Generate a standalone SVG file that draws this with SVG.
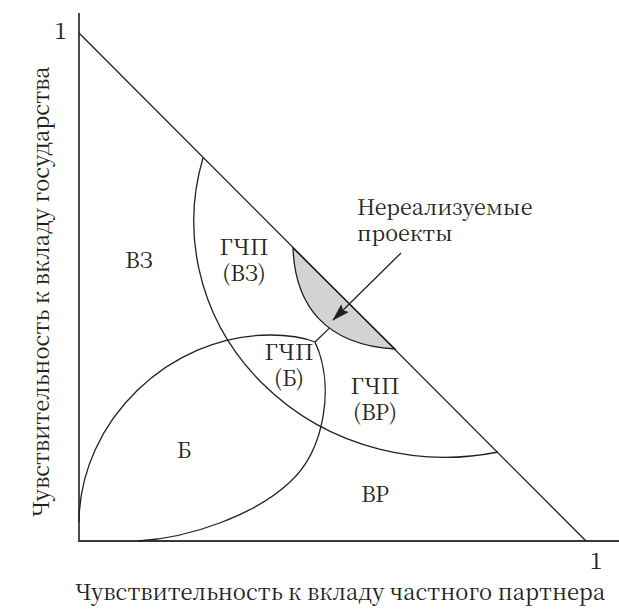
<svg xmlns="http://www.w3.org/2000/svg" width="619" height="609" viewBox="0 0 619 609">
<style>
text{font-family:"Noto Serif CJK SC","Liberation Serif",serif;fill:#231f20}
.lbl{font-size:22px;text-anchor:middle}
.ax{font-size:22px;text-anchor:middle}
.c{fill:none;stroke:#231f20;stroke-width:1.3}
.axis{fill:none;stroke:#3a3a3a;stroke-width:1.8}
</style>
<defs>
<marker id="ah" markerWidth="18" markerHeight="11" refX="17" refY="5.5" orient="auto" markerUnits="userSpaceOnUse">
<path d="M0,0 L18,5.5 L0,11 L3,5.5 Z" fill="#231f20"/>
</marker>
</defs>
<g id="shaded">
<path d="M293,248 C295,305 325,345 395,349 L293,248 Z" fill="#d3d3d5" stroke="#231f20" stroke-width="1.3"/>
</g>
<g id="connectors">
<path class="axis" d="M79,13 L79,541 L619,541"/>
<path class="c" d="M79,33 L586,541"/>
<path class="c" d="M203,158 A251,236 0 0 0 498,452"/>
<path class="c" d="M79,522 C80,420 170,335 270,335 C290,335 305,338 315,342"/>
<path class="c" d="M315,342 C335,385 325,450 290,482 C255,515 190,538 138,541"/>
<path class="c" d="M315,342 L329.4,328.1"/>
<path class="c" d="M401,253 L333,320" marker-end="url(#ah)"/>
</g>
<g id="labels">
<text x="67" y="39" style="font-size:23px;text-anchor:end">1</text>
<text x="596" y="569" style="font-size:23px;text-anchor:middle">1</text>
<text class="ax" x="340" y="600">Чувствительность к вкладу частного партнера</text>
<text class="ax" transform="translate(49,292) rotate(-90)">Чувствительность к вкладу государства</text>
</g>
<g id="node-vz"><text class="lbl" x="139" y="268">ВЗ</text></g>
<g id="node-gchp-vz"><text class="lbl"><tspan x="244" y="255">ГЧП</tspan><tspan x="244" y="281">(ВЗ)</tspan></text></g>
<g id="node-gchp-b"><text class="lbl"><tspan x="289" y="360">ГЧП</tspan><tspan x="289" y="386">(Б)</tspan></text></g>
<g id="node-gchp-vr"><text class="lbl"><tspan x="375" y="394">ГЧП</tspan><tspan x="375" y="420">(ВР)</tspan></text></g>
<g id="node-b"><text class="lbl" x="184" y="458">Б</text></g>
<g id="node-vr"><text class="lbl" x="375" y="502">ВР</text></g>
<g id="node-unreal"><text style="font-size:21.5px"><tspan x="357" y="215">Нереализуемые</tspan><tspan x="357" y="241">проекты</tspan></text></g>
</svg>
